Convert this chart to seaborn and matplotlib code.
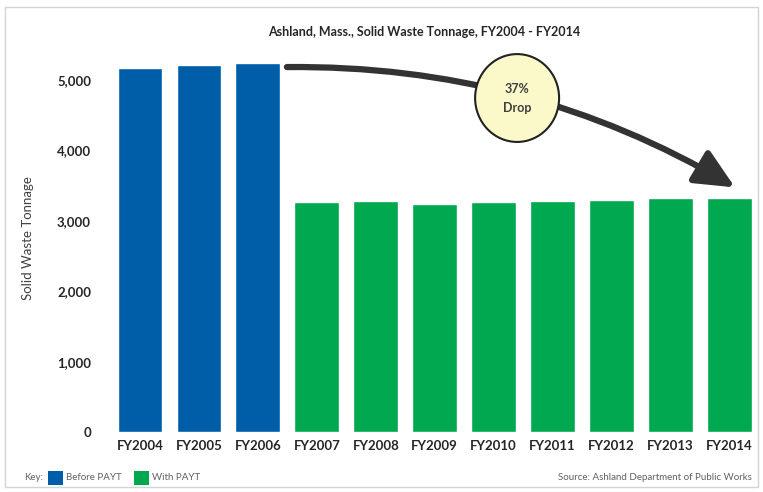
import numpy as np
import pandas as pd
import matplotlib
matplotlib.use("Agg")
import matplotlib.pyplot as plt
from matplotlib.patches import Ellipse, Rectangle
import seaborn as sns

YEARS = ["FY2004", "FY2005", "FY2006", "FY2007", "FY2008", "FY2009",
         "FY2010", "FY2011", "FY2012", "FY2013", "FY2014"]
TONNAGE = [5180, 5210, 5250, 3270, 3290, 3240, 3270, 3290, 3300, 3320, 3320]
PERIOD = ["Before PAYT"] * 3 + ["With PAYT"] * 8
YTICKS = [0, 1000, 2000, 3000, 4000, 5000]

BLUE = "#005EA8"
GREEN = "#00A94F"
DARK = "#262626"

sns.set_theme(style="white")
plt.rcParams["font.family"] = ["Lato", "DejaVu Sans"]

df = pd.DataFrame({"year": YEARS, "tons": TONNAGE, "period": PERIOD})

W, H = 763, 492
fig = plt.figure(figsize=(W / 100, H / 100), dpi=100)
fig.patch.set_facecolor("white")

# thin frame around the whole chart
fig.add_artist(Rectangle((5 / W, 5 / H), 753 / W, 480 / H, transform=fig.transFigure,
                         fill=False, ec="#d4d4d4", lw=1.0))

ax = fig.add_axes([110.5 / W, 60 / H, 648.5 / W, 387 / H])
sns.barplot(data=df, x="year", y="tons", hue="period",
            palette={"Before PAYT": BLUE, "With PAYT": GREEN},
            dodge=False, width=0.76, saturation=1, legend=False, ax=ax)

ax.set_ylim(0, 5500)
ax.set_xlim(-0.5, len(YEARS) - 0.5)
ax.set_yticks(YTICKS)
ax.set_yticklabels([f"{v:,}" for v in YTICKS])
ax.set_xlabel("")
ax.set_ylabel("Solid Waste Tonnage", fontsize=9.5, color="#404040")
ax.yaxis.set_label_coords(-0.118, 0.5)
for s in ax.spines.values():
    s.set_visible(False)
ax.tick_params(axis="y", length=0, pad=14, labelsize=9.5, labelcolor=DARK)
ax.tick_params(axis="x", length=0, pad=6, labelsize=9.5, labelcolor=DARK)
for lab in ax.get_xticklabels() + ax.get_yticklabels():
    lab.set_fontweight("bold")

fig.text(424 / W, 1 - 32 / H, "Ashland, Mass., Solid Waste Tonnage, FY2004 - FY2014",
         ha="center", va="center", fontsize=9, fontweight="bold", color=DARK)

# curved "drop" arrow and its badge
ax.annotate("", xy=(0.963, 0.632), xytext=(0.272, 0.943),
            xycoords="axes fraction", textcoords="axes fraction",
            arrowprops=dict(arrowstyle="-|>,head_length=0.6,head_width=0.28",
                            connectionstyle="arc3,rad=-0.14", lw=4.5,
                            color="#333333", mutation_scale=40, shrinkA=0, shrinkB=0),
            zorder=4, annotation_clip=False)
ax.add_patch(Ellipse((0.627, 0.863), 0.1295, 0.227, transform=ax.transAxes,
                     fc="#FBF8C9", ec="#222222", lw=1.5, zorder=5, clip_on=False))
ax.text(0.627, 0.863, "37%\nDrop", transform=ax.transAxes, ha="center", va="center",
        fontsize=9, fontweight="bold", color="#404040", linespacing=1.7, zorder=6)

# key row
ky = 1 - 478 / H
fig.text(24 / W, ky, "Key:", ha="left", va="center", fontsize=7, color="#606060")
fig.add_artist(Rectangle((48 / W, 1 - 485 / H), 15 / W, 14 / H, transform=fig.transFigure,
                         fc=BLUE, ec="none"))
fig.text(66 / W, ky, "Before PAYT", ha="left", va="center", fontsize=7, color="#606060")
fig.add_artist(Rectangle((134 / W, 1 - 485 / H), 15 / W, 14 / H, transform=fig.transFigure,
                         fc=GREEN, ec="none"))
fig.text(152 / W, ky, "With PAYT", ha="left", va="center", fontsize=7, color="#606060")
fig.text(752 / W, ky, "Source: Ashland Department of Public Works", ha="right", va="center",
         fontsize=7, color="#606060")

fig.savefig("out.png", dpi=100)
